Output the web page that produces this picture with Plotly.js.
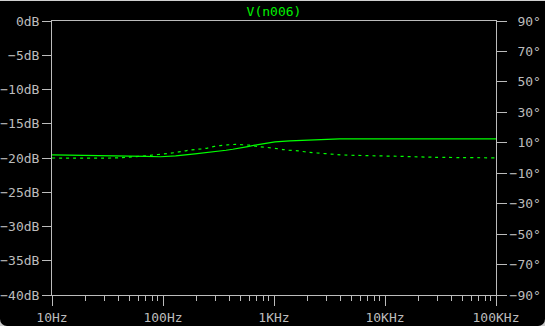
<!DOCTYPE html>
<html>
<head>
<meta charset="utf-8">
<script src="https://cdn.plot.ly/plotly-3.0.1.min.js"></script>
<style>
  html, body { margin: 0; padding: 0; background: #c8c8c8; }
  #frame { position: absolute; left: 0; top: 0; width: 545px; height: 326px; background: #000;
           border-top: 1px solid #d0d0d0; box-sizing: border-box; border-radius: 0 0 7px 7px; overflow: hidden; }
  #chart { position: absolute; left: 0; top: -1px; width: 545px; height: 326px; }
</style>
</head>
<body>
<div id="frame"><div id="chart"></div></div>
<script>
// Magnitude (dB) vs frequency (Hz)
const magFreq = [10, 30, 70, 95, 130, 194, 245, 300, 370, 425, 490, 580, 720, 870, 1020, 1390, 2200, 3900, 10000, 100000];
const magDb   = [-19.53, -19.6, -19.75, -19.82, -19.68, -19.39, -19.24, -19.1, -18.87, -18.72, -18.58, -18.33, -18.04, -17.85, -17.64, -17.5, -17.35, -17.22, -17.2, -17.2];

// Phase (degrees) vs frequency (Hz)
const phaseFreq = [10, 40, 50, 66, 90, 113, 139, 164, 194, 234, 290, 380, 450, 520, 600, 700, 850, 1160, 1310, 1650, 1980, 2440, 3260, 4190, 6600, 13650, 27000, 100000];
const phaseDeg  = [0, 0.1, 0.6, 1.3, 2.3, 3.0, 4.0, 4.9, 5.6, 6.1, 7.6, 8.6, 8.9, 8.7, 8.4, 7.6, 7.0, 5.8, 5.2, 4.7, 3.9, 3.3, 2.6, 2.0, 1.6, 1.1, 0.5, 0.1];

// Axis ticks
const xTickVals = [10, 100, 1000, 10000, 100000];
const xTickText = ["10Hz", "100Hz", "1KHz", "10KHz", "100KHz"];
const yTickVals = [0, -5, -10, -15, -20, -25, -30, -35, -40];
const y2TickVals = [90, 70, 50, 30, 10, -10, -30, -50, -70, -90];

const fmt = (v, suf) => (v < 0 ? '\u2212' + Math.abs(v) : String(v)) + suf;
const yTickText = yTickVals.map(v => fmt(v, 'dB'));
// right-axis labels right-aligned by padding with figure spaces (monospace font)
const y2TickText = y2TickVals.map(v => {
  const s = fmt(v, '°');
  return '\u2007'.repeat(Math.max(0, 4 - s.length)) + s;
});

const minorVals = [];
for (let d = 10; d < 100000; d *= 10) {
  for (let k = 2; k <= 9; k++) minorVals.push(d * k);
}

const axisColor = '#bcbcbc';
const fontMono = 'DejaVu Sans Mono, monospace';

const traces = [
  {
    x: magFreq, y: magDb, type: 'scatter', mode: 'lines', yaxis: 'y',
    line: { color: '#00ff00', width: 1.2 }, hoverinfo: 'skip'
  },
  {
    x: phaseFreq, y: phaseDeg, type: 'scatter', mode: 'lines', yaxis: 'y2',
    line: { color: '#00ff00', width: 1.2, dash: '3px,4px', shape: 'spline' }, hoverinfo: 'skip'
  }
];

const layout = {
  width: 545, height: 326,
  paper_bgcolor: 'rgba(0,0,0,0)', plot_bgcolor: '#000',
  margin: { l: 52, r: 49, t: 21, b: 31 },
  showlegend: false,
  font: { family: fontMono, size: 13, color: axisColor },
  title: {
    text: 'V(n006)', font: { family: fontMono, size: 13, color: '#00f000' },
    x: 0.5, xanchor: 'center', xref: 'paper', y: 1 - 11 / 326, yref: 'container', yanchor: 'middle'
  },
  xaxis: {
    type: 'log', range: [1, 5], tickmode: 'array', tickvals: xTickVals, ticktext: xTickText,
    ticks: 'outside', ticklen: 10, tickwidth: 1, tickcolor: axisColor,
    showline: true, linecolor: axisColor, linewidth: 1, mirror: true,
    showgrid: false, zeroline: false,
    tickfont: { family: fontMono, size: 13, color: axisColor },
    minor: { tickmode: 'array', tickvals: minorVals, ticks: 'outside', ticklen: 5, tickcolor: axisColor, tickwidth: 1, showgrid: false }
  },
  yaxis: {
    range: [-40, 0], tickmode: 'array', tickvals: yTickVals, ticktext: yTickText,
    ticks: 'outside', ticklen: 9, tickwidth: 1, tickcolor: axisColor,
    showline: true, linecolor: axisColor, linewidth: 1,
    showgrid: false, zeroline: false,
    tickfont: { family: fontMono, size: 13, color: axisColor }
  },
  yaxis2: {
    range: [-90, 90], overlaying: 'y', side: 'right', tickmode: 'array', tickvals: y2TickVals, ticktext: y2TickText,
    ticks: 'outside', ticklen: 10, tickwidth: 1, tickcolor: axisColor,
    showline: true, linecolor: axisColor, linewidth: 1,
    showgrid: false, zeroline: false,
    tickfont: { family: fontMono, size: 13, color: axisColor }
  }
};

Plotly.newPlot('chart', traces, layout, { staticPlot: true, displayModeBar: false });
</script>
</body>
</html>
